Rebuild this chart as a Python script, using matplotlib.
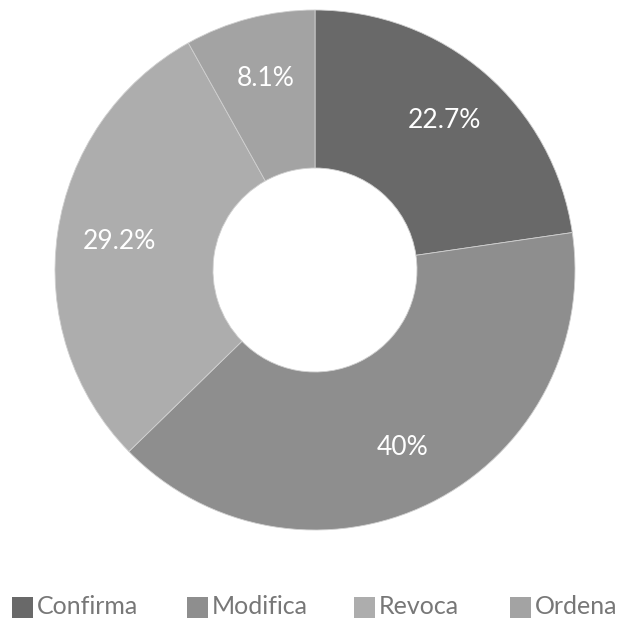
import matplotlib
matplotlib.use("Agg")
import matplotlib.pyplot as plt
from matplotlib.patches import Rectangle
import numpy as np

categories = ["Confirma", "Modifica", "Revoca", "Ordena"]
values = [22.7, 40, 29.2, 8.1]
colors = ["#696969", "#8e8e8e", "#adadad", "#a3a3a3"]

plt.rcParams['font.family'] = ['Lato', 'DejaVu Sans']

W, H = 619, 620
fig = plt.figure(figsize=(W / 100, H / 100), dpi=100)
cx, cy, R = 315, 270, 260
ax = fig.add_axes([(cx - R) / W, (H - cy - R) / H, 2 * R / W, 2 * R / H])

inner = 102 / R
wedges, _ = ax.pie(values, colors=colors, startangle=90, counterclock=False,
                   radius=1, wedgeprops=dict(width=1 - inner, edgecolor='#d0d0d0', linewidth=0.6))
ax.set_xlim(-1, 1)
ax.set_ylim(-1, 1)
ax.set_aspect('equal')
ax.axis('off')

label_r = 0.76
for w, v in zip(wedges, values):
    ang = np.deg2rad((w.theta1 + w.theta2) / 2)
    ax.text(label_r * np.cos(ang), label_r * np.sin(ang), f"{v:g}%",
            ha='center', va='center', color='white', fontsize=19)

# legend (manual layout)
box_x = [12, 187, 354, 510]
box = 21
ly = 607
for x, c, name in zip(box_x, colors, categories):
    fig.add_artist(Rectangle((x / W, (H - ly - box / 2) / H), box / W, box / H,
                             facecolor=c, edgecolor='none', transform=fig.transFigure))
    fig.text((x + box + 4) / W, (H - ly) / H, name, ha='left', va='center',
             color='#777777', fontsize=18)

fig.savefig("out.png", dpi=100)
